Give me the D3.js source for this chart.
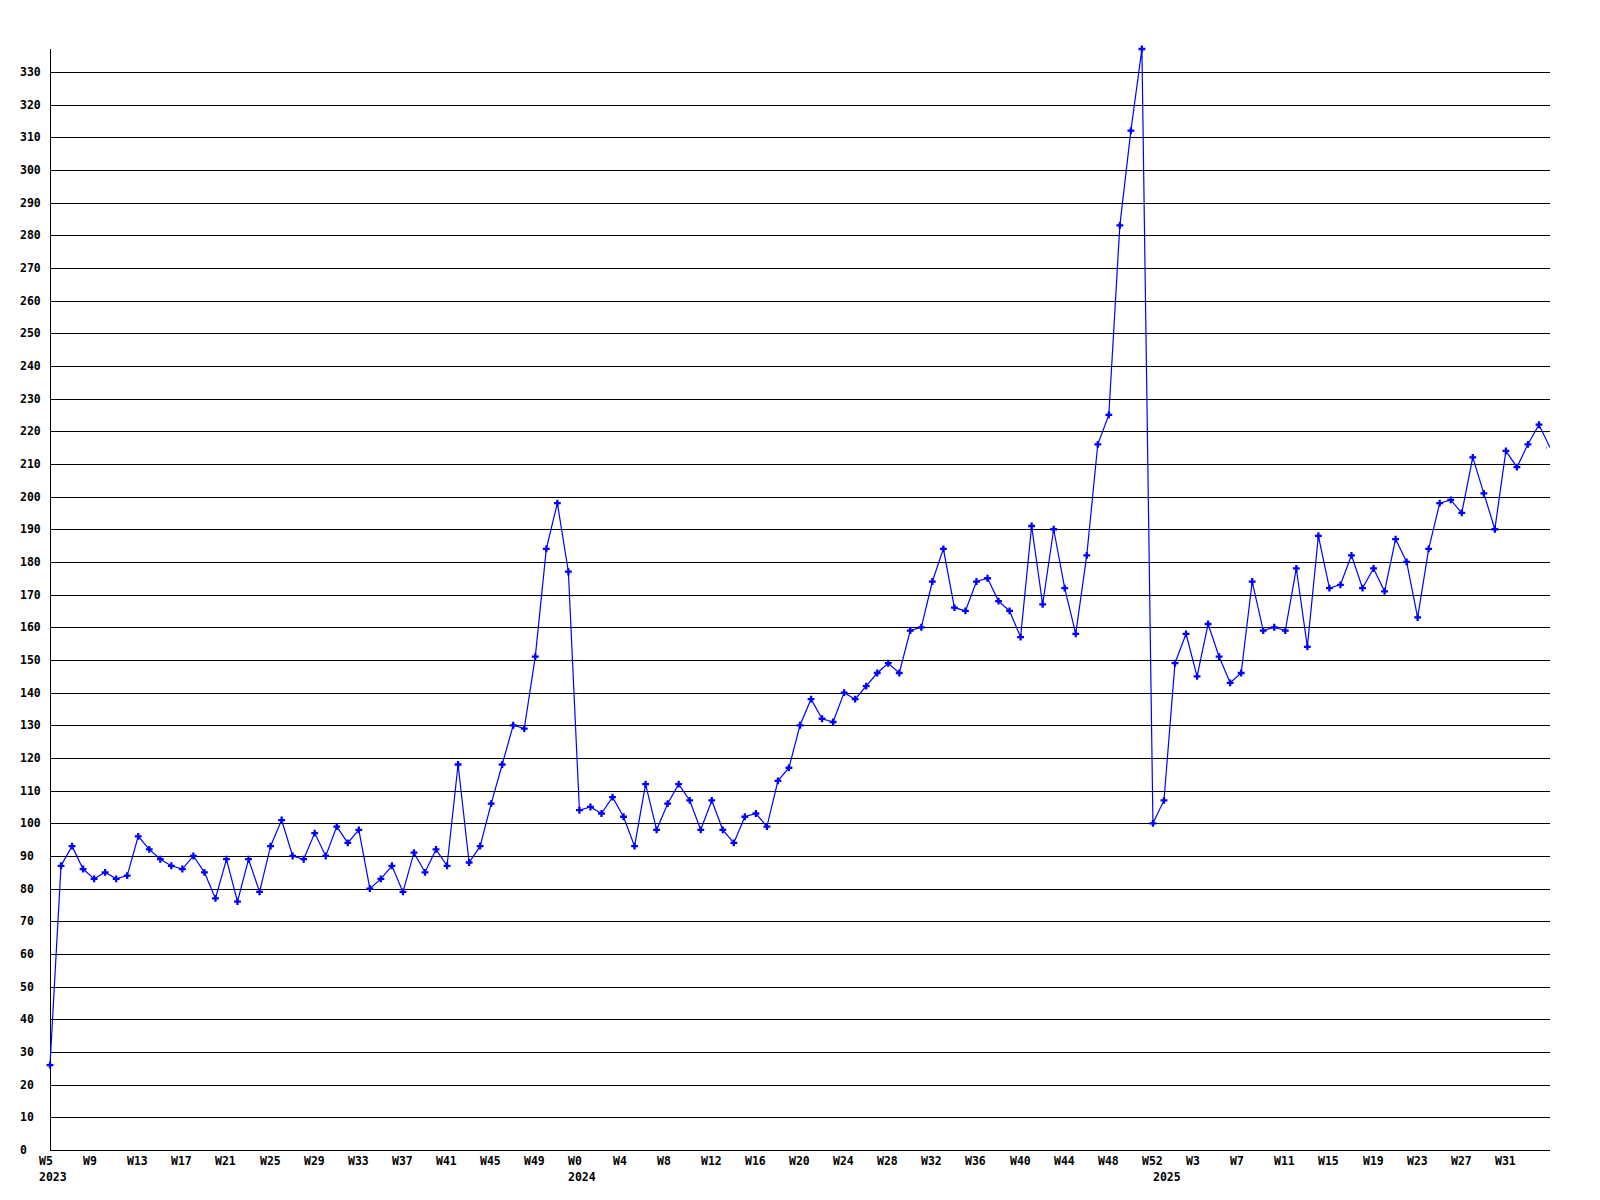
<!DOCTYPE html>
<html>
<head>
<meta charset="utf-8">
<script src="https://cdn.jsdelivr.net/npm/d3@7"></script>
<style>
  html, body { margin: 0; padding: 0; background: #fff; }
  svg { display: block; }
  text { font-family: "DejaVu Sans Mono", "Liberation Mono", monospace; font-weight: bold; font-size: 11.5px; fill: #000; }
</style>
</head>
<body>
<svg id="chart" width="1600" height="1200"></svg>
<script>
// ---- data ----
const values2023 = [26, 87, 93, 86, 83, 85, 83, 84, 96, 92, 89, 87, 86, 90, 85, 77, 89, 76, 89, 79,
  93, 101, 90, 89, 97, 90, 99, 94, 98, 80, 83, 87, 79, 91, 85, 92, 87, 118, 88, 93,
  106, 118, 130, 129, 151, 184, 198, 177];               // W5..W52
const values2024 = [104, 105, 103, 108, 102, 93, 112, 98, 106, 112, 107, 98, 107, 98, 94, 102, 103, 99,
  113, 117, 130, 138, 132, 131, 140, 138, 142, 146, 149, 146, 159, 160, 174, 184, 166, 165,
  174, 175, 168, 165, 157, 191, 167, 190, 172, 158, 182, 216, 225, 283, 312, 337, 100]; // W0..W52
const values2025 = [107, 149, 158, 145, 161, 151, 143, 146, 174, 159, 160, 159, 178, 154, 188, 172,
  173, 182, 172, 178, 171, 187, 180, 163, 184, 198, 199, 195, 212, 201, 190, 214, 209, 216, 222, 215]; // W0..W35
const firstWeek = { 2023: 5, 2024: 0, 2025: 0 };
const xTickLabels = ["W5","W9","W13","W17","W21","W25","W29","W33","W37","W41","W45","W49",
  "W0","W4","W8","W12","W16","W20","W24","W28","W32","W36","W40","W44","W48","W52",
  "W3","W7","W11","W15","W19","W23","W27","W31"];
const yearLabels = ["2023", "2024", "2025"];
const yTicks = d3.range(0, 331, 10);

// ---- build categories ----
const points = [];
[[2023, values2023], [2024, values2024], [2025, values2025]].forEach(([yr, vals]) => {
  vals.forEach((v, k) => points.push({ year: yr, week: firstWeek[yr] + k, value: v }));
});
points.forEach((p, i) => { p.i = i; p.label = "W" + p.week; });

// ---- layout ----
const plotL = 50, plotR = 1550, plotT = 49, plotB = 1150;
const svg = d3.select("#chart");

const x = d3.scaleLinear().domain([0, points.length - 1]).range([plotL, plotR]);
const y = d3.scaleLinear().domain([0, d3.max(points, d => d.value)]).range([plotB, plotT]);

// gridlines
svg.append("g").selectAll("line").data(yTicks).join("line")
  .attr("x1", plotL).attr("x2", plotR)
  .attr("y1", d => Math.round(y(d)) + 0.5).attr("y2", d => Math.round(y(d)) + 0.5)
  .attr("stroke", "#000").attr("stroke-width", 1).attr("shape-rendering", "crispEdges");

// y axis line
svg.append("line").attr("x1", plotL + 0.5).attr("x2", plotL + 0.5)
  .attr("y1", plotT).attr("y2", plotB + 1)
  .attr("stroke", "#000").attr("stroke-width", 1).attr("shape-rendering", "crispEdges");

// y labels
svg.append("g").selectAll("text").data(yTicks).join("text")
  .attr("x", 20).attr("y", d => y(d) + 4)
  .text(d => d);

// x tick labels
let tickIdx = 0;
const tickPts = [];
points.forEach((p, i) => {
  if (tickIdx < xTickLabels.length && i % 4 === 0 && p.label === xTickLabels[tickIdx]) {
    tickPts.push({ i, text: xTickLabels[tickIdx] }); tickIdx++;
  }
});
svg.append("g").selectAll("text").data(tickPts).join("text")
  .attr("x", d => Math.round(x(d.i)) - 11).attr("y", 1165)
  .text(d => d.text);

// year labels at first point of each year
const yearPts = yearLabels.map(yl => ({ text: yl, i: points.find(p => String(p.year) === yl).i }));
svg.append("g").selectAll("text").data(yearPts).join("text")
  .attr("x", d => Math.round(x(d.i)) - 11).attr("y", 1181)
  .text(d => d.text);

// clip
svg.append("clipPath").attr("id", "plotclip").append("rect")
  .attr("x", plotL - 5).attr("y", 0).attr("width", plotR - plotL + 5).attr("height", 1200);
svg.append("clipPath").attr("id", "markclip").append("rect")
  .attr("x", plotL - 5).attr("y", 0).attr("width", plotR - plotL + 2).attr("height", 1200);

// line
const line = d3.line().x(d => x(d.i)).y(d => y(d.value));
svg.append("path").datum(points)
  .attr("d", line).attr("fill", "none").attr("stroke", "#0000ff").attr("stroke-width", 1.2)
  .attr("clip-path", "url(#plotclip)");

// markers
const sym = d3.symbol().type(d3.symbolCross).size(26);
svg.append("g").attr("clip-path", "url(#markclip)").selectAll("path").data(points).join("path")
  .attr("transform", d => `translate(${x(d.i)},${y(d.value)})`)
  .attr("d", sym).attr("fill", "#0000ff");
</script>
</body>
</html>
